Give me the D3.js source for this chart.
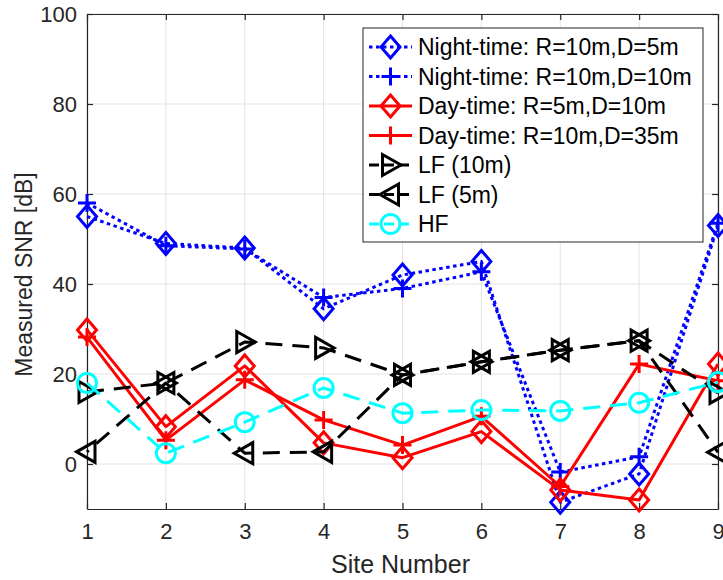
<!DOCTYPE html>
<html>
<head>
<meta charset="utf-8">
<script src="https://cdn.jsdelivr.net/npm/d3@7"></script>
<style>
  html, body { margin: 0; padding: 0; background: #fff; }
  svg { display: block; font-family: "Liberation Sans", Arial, Helvetica, sans-serif; }
</style>
</head>
<body>
<svg id="chart" width="723" height="580"></svg>
<script>
// Measured SNR per site
const sites = [1, 2, 3, 4, 5, 6, 7, 8, 9];
const nightR10D5  = [55, 49, 48, 34.5, 42, 45, -8.5, -2.2, 53];
const nightR10D10 = [58, 48.5, 47.8, 37, 39, 42.7, -1.8, 1.6, 53.5];
const dayR5D10    = [29.8, 8.3, 21.8, 4.7, 1.4, 7.2, -5.8, -8, 22.2];
const dayR10D35   = [28.2, 5.3, 18.7, 9.8, 4.2, 10.6, -5, 22.2, 18.5];
const lf10        = [16, 18, 27.1, 25.8, 19.8, 22.7, 25.3, 27.4, 15.8];
const lf5         = [2.7, 18, 2.4, 2.7, 19.8, 22.7, 25.3, 27.4, 2.6];
const hf          = [18, 2.4, 9.3, 16.9, 11.3, 12, 11.8, 13.6, 18.2];
const yTicks = [0, 20, 40, 60, 80, 100];
const xLabel = "Site Number";
const yLabel = "Measured SNR [dB]";

const series = [
  { name: "Night-time: R=10m,D=5m",  values: nightR10D5,  color: "#0000ff", dash: "3.5,3.5", marker: "diamond" },
  { name: "Night-time: R=10m,D=10m", values: nightR10D10, color: "#0000ff", dash: "3.5,3.5", marker: "plus" },
  { name: "Day-time: R=5m,D=10m",    values: dayR5D10,    color: "#ff0000", dash: null,      marker: "diamond" },
  { name: "Day-time: R=10m,D=35m",   values: dayR10D35,   color: "#ff0000", dash: null,      marker: "plus" },
  { name: "LF (10m)",                values: lf10,        color: "#000000", dash: "17,10",   marker: "triRight" },
  { name: "LF (5m)",                 values: lf5,         color: "#000000", dash: "17,10",   marker: "triLeft" },
  { name: "HF",                      values: hf,          color: "#00ffff", dash: "17,10",   marker: "circle" }
];

const svg = d3.select("#chart");
const pLeft = 87, pRight = 718, pTop = 14, pBottom = 509;
const x = d3.scaleLinear().domain([1, 9]).range([pLeft, pRight]);
const y = d3.scaleLinear().domain([-10, 100]).range([pBottom, pTop]);
const axisColor = "#262626";

// grid
const grid = svg.append("g");
grid.selectAll("line.gx").data(sites).join("line")
  .attr("x1", d => x(d)).attr("x2", d => x(d))
  .attr("y1", pTop).attr("y2", pBottom)
  .attr("stroke", "#e3e3e3").attr("stroke-width", 1);
grid.selectAll("line.gy").data(yTicks).join("line")
  .attr("x1", pLeft).attr("x2", pRight)
  .attr("y1", d => y(d)).attr("y2", d => y(d))
  .attr("stroke", "#e3e3e3").attr("stroke-width", 1);

// axes (ticks point inward on all four sides)
function styleAxis(g) {
  g.select(".domain").attr("stroke", axisColor).attr("stroke-width", 1.2);
  g.selectAll(".tick line").attr("stroke", axisColor).attr("stroke-width", 1.2);
  g.selectAll("text").attr("fill", axisColor).style("font-size", "22px")
    .style("font-family", "\"Liberation Sans\", Arial, sans-serif");
}
svg.append("g").attr("transform", `translate(0,${pBottom})`)
  .call(d3.axisBottom(x).tickValues(sites).tickFormat(d3.format("d")).tickSize(-6).tickSizeOuter(0))
  .call(styleAxis)
  .call(g => g.selectAll("text").attr("y", 30).attr("dy", null));
svg.append("g").attr("transform", `translate(0,${pTop})`)
  .call(d3.axisTop(x).tickValues(sites).tickFormat("").tickSize(-6).tickSizeOuter(0))
  .call(styleAxis);
svg.append("g").attr("transform", `translate(${pLeft},0)`)
  .call(d3.axisLeft(y).tickValues(yTicks).tickSize(-6).tickSizeOuter(0).tickPadding(10))
  .call(styleAxis)
  .call(g => g.selectAll("text").attr("x", -10).attr("dy", "0.36em"));
svg.append("g").attr("transform", `translate(${pRight},0)`)
  .call(d3.axisRight(y).tickValues(yTicks).tickFormat("").tickSize(-6).tickSizeOuter(0))
  .call(styleAxis);

// axis labels
svg.append("text").attr("x", (pLeft + pRight) / 2 - 2).attr("y", 573)
  .attr("text-anchor", "middle").attr("fill", axisColor)
  .style("font-size", "25px").text(xLabel);
svg.append("text").attr("transform", `translate(32,${(162 + 387) / 2}) rotate(-90)`)
  .attr("text-anchor", "middle").attr("fill", axisColor)
  .style("font-size", "23px").text(yLabel);

// marker shapes
function markerPath(type) {
  switch (type) {
    case "diamond": return "M0,-11L9.5,0L0,11L-9.5,0Z";
    case "plus": return "M-9,0H9M0,-9V9";
    case "triRight": return "M-8,-10.5L-8,10.5L10.5,0Z";
    case "triLeft": return "M8,-10.5L8,10.5L-10.5,0Z";
    default: return null;
  }
}
function drawMarker(g, type, color, cx, cy) {
  if (type === "circle") {
    g.append("circle").attr("cx", cx).attr("cy", cy).attr("r", 9.5)
      .attr("fill", "none").attr("stroke", color).attr("stroke-width", 3);
  } else {
    g.append("path").attr("d", markerPath(type))
      .attr("transform", `translate(${cx},${cy})`)
      .attr("fill", "none").attr("stroke", color).attr("stroke-width", 3)
      .attr("stroke-linejoin", "miter");
  }
}

// length of the polyline up to a given point index, in pixels
function lengthTo(values, n) {
  let len = 0;
  for (let i = 1; i <= n; i++) {
    len += Math.hypot(x(sites[i]) - x(sites[i - 1]), y(values[i]) - y(values[i - 1]));
  }
  return len;
}
// keep the two LF dash patterns in phase where their paths coincide (from site 5 on)
const lfPhase = lengthTo(lf10, 4) - lengthTo(lf5, 4);

// series lines and markers
const line = d3.line().x((d, i) => x(sites[i])).y(d => y(d));
const plot = svg.append("g");
series.forEach(s => {
  const g = plot.append("g");
  g.append("path").attr("d", line(s.values))
    .attr("fill", "none").attr("stroke", s.color).attr("stroke-width", 3)
    .attr("stroke-dasharray", s.dash).attr("stroke-linejoin", "round")
    .attr("stroke-dashoffset", s.values === lf5 ? -lfPhase : 0);
  s.values.forEach((v, i) => drawMarker(g, s.marker, s.color, x(sites[i]), y(v)));
});

// legend
const lg = svg.append("g");
const lx0 = 363, ly0 = 28, lw = 340, lh = 214;
lg.append("rect").attr("x", lx0).attr("y", ly0).attr("width", lw).attr("height", lh)
  .attr("fill", "#fff").attr("stroke", axisColor).attr("stroke-width", 1);
series.forEach((s, i) => {
  const cy = 47 + i * 29.5;
  const row = lg.append("g");
  row.append("line").attr("x1", 369).attr("x2", 412).attr("y1", cy).attr("y2", cy)
    .attr("stroke", s.color).attr("stroke-width", 3)
    .attr("stroke-dasharray", s.dash ? (s.marker === "circle" || s.marker.startsWith("tri") ? "10,5" : s.dash) : null);
  drawMarker(row, s.marker, s.color, 390.5, cy);
  row.append("text").attr("x", 418).attr("y", cy).attr("dy", "0.36em")
    .attr("fill", "#000").style("font-size", "23px").text(s.name);
});
</script>
</body>
</html>
